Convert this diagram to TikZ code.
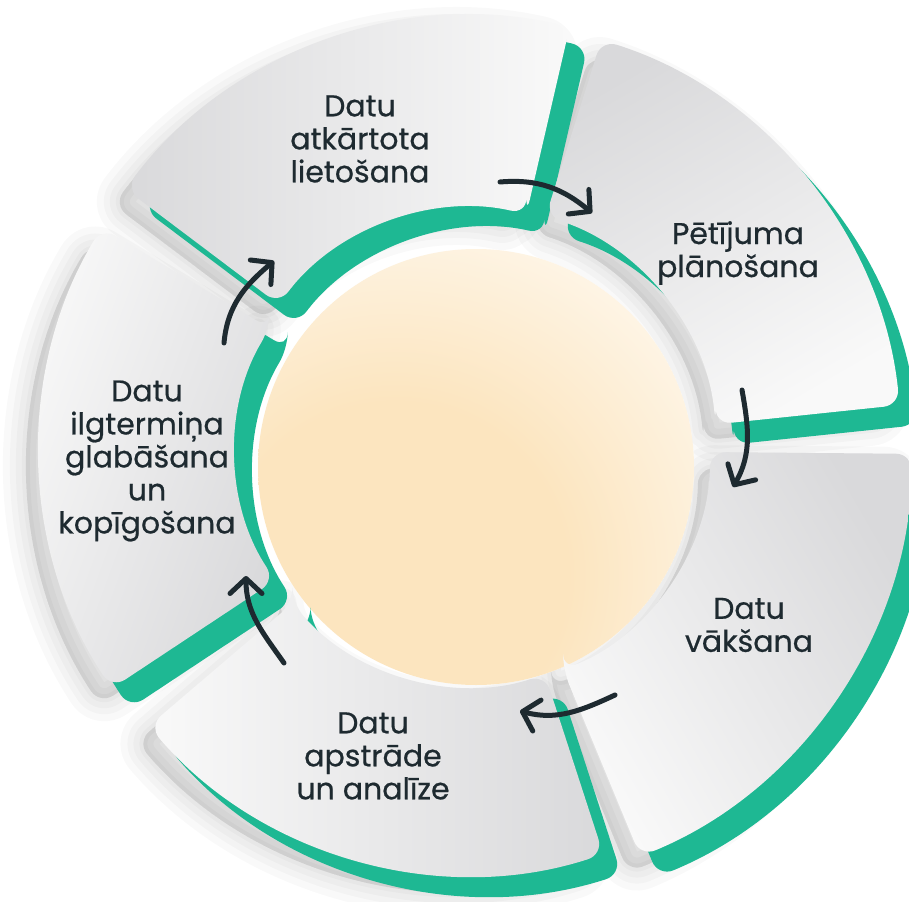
\documentclass[tikz,border=0pt]{standalone}
\usepackage{fontspec}
\setmainfont{Poppins}
\newfontfamily\lblfont{Poppins}[FakeBold=0.6]
\usetikzlibrary{arrows.meta}
\definecolor{tealc}{HTML}{1EB893}
\definecolor{ink}{HTML}{1E2A30}
\definecolor{cream}{HTML}{FCE5BF}
\definecolor{cardD}{HTML}{D9D9DB}
\definecolor{cardL}{HTML}{F9F9F9}
\pgfdeclareradialshading{creamglow}{\pgfpoint{0bp}{0bp}}{color(0bp)=(cream); color(9bp)=(cream); color(25bp)=(white); color(50bp)=(white)}
% annular sector about the local origin: #1,#2 angles, #3 inner, #4 outer radius
\newcommand\cardpath[4]{(#1:#3) -- (#1:#4) arc[start angle=#1,end angle=#2,radius=#4] -- (#2:#3) arc[start angle=#2,end angle=#1,radius=#3] -- cycle}
\newcommand\allcards[1]{%
  \path[#1] \cardpath{6}{72.5}{245}{430};
  \path[#1] \cardpath{77}{143}{242}{434};
  \path[#1] \cardpath{149}{213.5}{236}{432};
  \path[#1] \cardpath{220.5}{288}{236}{425};
  \path[#1] \cardpath{292.5}{359.5}{238}{440};}
\tikzset{
  lbl/.style={font=\lblfont\fontsize{30}{33}\selectfont, text=ink, align=center, inner sep=0pt},
  flow/.style={draw=ink, line width=5pt, line cap=round,
    -{Straight Barb[length=15pt,width=32pt,line cap=round,line join=round]}},
  cardshape/.style={rounded corners=16pt},
  tealback/.style={fill=tealc, rounded corners=16pt},
  softshadow/.style={draw=black, fill=black, line width=#1, line join=round,
    rounded corners=16pt, opacity=0.022},
}
\begin{document}
\begin{tikzpicture}[x=1pt,y=1pt]
\useasboundingbox (0,-901) rectangle (909,0);
\fill[white] (0,-901) rectangle (909,0);
% soft shadows
\begin{scope}[shift={(460,-466)}]
\foreach \w in {46,32,20,8}{\allcards{softshadow=\w}}
\end{scope}
% centre disc
\coordinate (D) at (476,-467);
\begin{scope}
  \clip (D) circle (218);
  \fill[white] (D) circle (218);
  \shade[shading=creamglow] (395,-575) circle (480);
\end{scope}
% teal backs
\begin{scope}[shift={(490,-470)}]
\allcards{tealback}
\end{scope}
% cards
\begin{scope}[shift={(472,-450)}]
\shade[cardshape, top color=cardD, bottom color=cardL, shading angle=30] \cardpath{6}{72.5}{245}{430};
\shade[cardshape, top color=cardD, bottom color=cardL, shading angle=90] \cardpath{77}{143}{242}{434};
\shade[cardshape, top color=cardD, bottom color=cardL, shading angle=-110] \cardpath{149}{213.5}{236}{432};
\shade[cardshape, top color=cardD, bottom color=cardL, shading angle=-90] \cardpath{220.5}{288}{236}{425};
\shade[cardshape, top color=cardD, bottom color=cardL, shading angle=-60] \cardpath{292.5}{359.5}{238}{440};
\end{scope}
% labels
\node[lbl] (tA) at (360,-139) {Datu\\atkārtota\\lietošana};
\node[lbl] (tP) at (738,-253) {Pētījuma\\plānošana};
\node[lbl] (tV) at (749,-625) {Datu\\vākšana};
\node[lbl] (tS) at (373,-756) {Datu\\apstrāde\\un analīze};
\node[lbl] (tL) at (147,-461) {Datu\\ilgtermiņa\\glabāšana\\un\\kopīgošana};
% arrows
\coordinate (a1s) at (500,-182); \coordinate (a1e) at (592,-213);
\coordinate (a2s) at (742,-390); \coordinate (a2e) at (733,-487);
\coordinate (a3s) at (615,-695); \coordinate (a3e) at (520,-711);
\coordinate (a4s) at (284,-663); \coordinate (a4e) at (246,-576);
\coordinate (a5s) at (224,-343); \coordinate (a5e) at (274,-261);
\draw[flow] (a1s) to[out=5,in=140] (a1e);
\draw[flow] (a2s) to[out=-80,in=60] (a2e);
\draw[flow] (a3s) to[out=205,in=-15] (a3e);
\draw[flow] (a4s) to[out=125,in=-90] (a4e);
\draw[flow] (a5s) to[out=85,in=-140] (a5e);
\end{tikzpicture}
\end{document}
